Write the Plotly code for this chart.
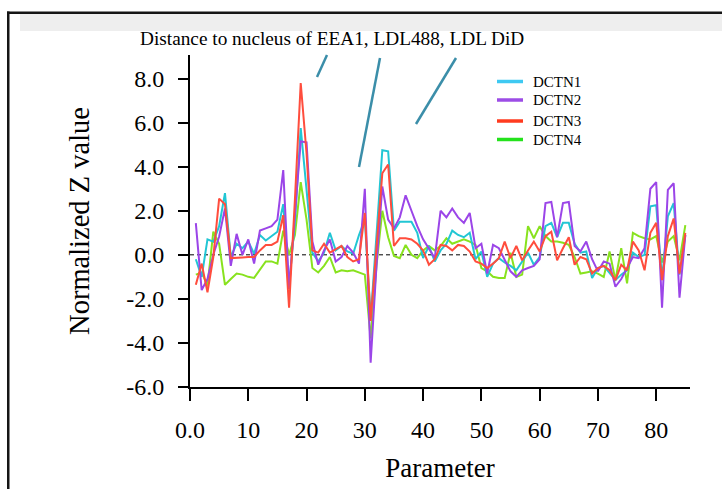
import plotly.graph_objects as go

# ---------------- data ----------------
params = list(range(1, 86))

dctn1 = [-0.2, -1.0, 0.7, 0.6, 1.3, 2.8, -0.1, 0.5, 0.3, 0.6,
         0.05, 0.9, 0.65, 0.85, 1.05, 2.3, -1.4, 1.5, 5.75, 2.95,
         0.1, -0.3, 0.1, 1.0, 0.2, 0.4, 0.15, 0.05, 0.9, 1.6,
         -2.9, 0.9, 4.75, 4.7, 1.1, 1.5, 1.5, 1.5, 1.0, -0.15,
         0.4, -0.3, 0.2, 0.5, 1.1, 0.9, 0.8, 1.0, -0.2, 0.15,
         -1.0, -0.4, -0.15, -0.35, -0.5, -0.7, -0.3, 0.1, -0.45, -0.1,
         1.3, 1.45, 0.8, 1.45, 1.45, 0.5, 0.1, 0.15, -1.05, -0.6,
         -0.5, -0.8, -1.15, -0.9, -0.7, 0.1, -0.1, 0.0, 2.2, 2.25,
         -1.1, 1.75, 2.35, -0.9, 0.9]

dctn2 = [1.44, -1.6, -1.1, 0.0, 0.83, 2.1, -0.5, 0.95, 0.0, 0.7,
         -0.4, 1.1, 1.2, 1.3, 1.6, 3.85, -1.55, 1.8, 5.15, 5.1,
         0.6, -0.45, 0.2, 0.7, -0.3, -0.1, 0.4, 0.1, -0.4, 3.0,
         -4.9, -0.5, 3.1, 1.6, 1.2, 1.7, 2.7, 2.0, 1.3, 0.7,
         0.3, -0.15, 2.0, 1.7, 2.1, 1.7, 1.45, 1.9, 0.3, 0.5,
         -0.85, 0.45, 0.3, -0.2, -0.75, -1.0, -0.7, -0.6, -0.5, -0.2,
         2.35, 2.4, 0.8, 2.35, 2.4, 0.4, 0.15, 0.6, -0.2, -0.75,
         -0.3, -0.4, -1.45, -1.1, -0.6, -0.1, -0.15, 0.3, 3.0, 3.3,
         -2.4, 2.95, 3.25, -1.95, 0.9]

dctn3 = [-1.36, -0.4, -1.7, -0.1, 2.55, 2.3, -0.15, -0.15, -0.12, -0.1,
         -0.1, 0.2, 0.45, 0.45, 0.6, 1.8, -2.4, 2.5, 7.8, 4.6,
         0.2, 0.1, 0.5, 0.1, 0.25, 0.4, -0.1, -0.3, -0.2, 1.9,
         -3.0, 0.2, 3.7, 4.1, 0.4, 0.75, 0.75, 0.7, 0.5, 0.2,
         -0.45, -0.2, 0.45, 0.4, 0.2, 0.45, 0.4, 0.15, -0.3, -0.4,
         -0.6, -0.4, -0.15, 0.6, -0.15, 0.4, -0.25, 0.2, 0.6, 0.15,
         0.85, 1.05, -0.25, 0.3, 0.8, -0.45, -0.1, -0.2, -0.85, -0.6,
         -0.5, -0.7, -1.15, -0.45, -0.7, 0.6, 0.2, -0.7, 1.0, 1.45,
         -1.15, 0.85, 1.65, -0.85, 1.0]

dctn4 = [-0.9, -0.8, -1.4, 1.05, 0.5, -1.36, -1.1, -0.85, -0.9, -1.0,
         -1.05, -0.7, -0.3, -0.3, -0.4, 1.1, 0.0, 0.9, 3.3, 1.6,
         -0.6, -0.8, -0.5, -0.1, -0.8, -0.7, -0.75, -0.7, -0.8, -0.9,
         -3.8, -0.5, 2.0, 0.8, -0.05, -0.15, 0.45, 0.0, -0.15, 0.2,
         0.4, 0.2, 0.4, 0.75, 0.5, 0.6, 0.7, 0.6, 0.45, -0.6,
         -0.75, -1.0, -1.05, -1.05, 0.1, -1.0, -0.9, 1.3, 0.75, 1.3,
         0.85, 0.6, 0.6, 0.55, 0.45, -0.1, -0.85, -0.8, -0.75, -0.85,
         -1.0, 0.15, -1.15, 0.3, -1.3, 1.0, 0.85, 0.75, 0.7, 0.85,
         -0.35, 0.6, 0.85, -0.25, 1.35]

series_names = ["DCTN1", "DCTN2", "DCTN3", "DCTN4"]
series_values = [dctn1, dctn2, dctn3, dctn4]

x_tick_vals = [0, 10, 20, 30, 40, 50, 60, 70, 80]
x_tick_text = ["0.0", "10", "20", "30", "40", "50", "60", "70", "80"]
y_tick_vals = [-6, -4, -2, 0, 2, 4, 6, 8]
y_tick_text = ["-6.0", "-4.0", "-2.0", "0.0", "2.0", "4.0", "6.0", "8.0"]

title_text = "Distance to nucleus of EEA1, LDL488, LDL DiD"
x_title = "Parameter"
y_title = "Normalized Z value"

# ---------------- styles ----------------
line_colors = ["#22c6d4", "#9b45e8", "#ff4d3d", "#88e21e"]
legend_colors = ["#3ec9f2", "#9c4ce6", "#ff3b1f", "#24e21c"]
legend_rows_px = [81.5, 100, 121, 139.5]
draw_order = [3, 0, 1, 2]
FONT = "Liberation Serif, Times New Roman, serif"

W, H = 722, 489
ML, MR, MT, MB = 190, 32, 55, 102
PW, PH = W - ML - MR, H - MT - MB


def px_x(px):
    return (px - ML) / PW


def px_y(py):
    return (H - MB - py) / PH


fig = go.Figure()

for i in draw_order:
    fig.add_trace(go.Scatter(
        x=params, y=series_values[i], mode="lines", name=series_names[i],
        line=dict(color=line_colors[i], width=2), showlegend=False,
        hoverinfo="skip"))

shapes = []
annotations = []
# zero dashed line
shapes.append(dict(type="line", xref="paper", x0=0, x1=1, yref="y", y0=0, y1=0,
                   line=dict(color="black", width=1, dash="4px,3px"), layer="below"))
# pointer strokes under the heading
for (a, b, c, d) in [(317, 77, 327, 55), (359, 167, 380, 58), (416, 124, 456, 58)]:
    shapes.append(dict(type="line", xref="paper", yref="paper",
                       x0=px_x(a), y0=px_y(b), x1=px_x(c), y1=px_y(d),
                       line=dict(color="#3b8ea9", width=2.5)))
# picture frame: grey band and dark top/left borders
shapes.append(dict(type="rect", xref="paper", yref="paper",
                   x0=px_x(20), x1=px_x(722), y0=px_y(31), y1=px_y(14),
                   fillcolor="#eeeeee", line=dict(width=0), layer="below"))
shapes.append(dict(type="rect", xref="paper", yref="paper",
                   x0=px_x(7), x1=px_x(722), y0=px_y(14), y1=px_y(11.5),
                   fillcolor="#151515", line=dict(width=0)))
shapes.append(dict(type="rect", xref="paper", yref="paper",
                   x0=px_x(7), x1=px_x(9.5), y0=px_y(489), y1=px_y(11.5),
                   fillcolor="#151515", line=dict(width=0)))

# legend (drawn by hand for exact row spacing)
for name, col, ry in zip(series_names, legend_colors, legend_rows_px):
    shapes.append(dict(type="line", xref="paper", yref="paper",
                       x0=px_x(497), x1=px_x(523), y0=px_y(ry), y1=px_y(ry),
                       line=dict(color=col, width=3.5)))
    annotations.append(dict(text=name, xref="paper", yref="paper",
                            x=px_x(531), y=px_y(ry), xanchor="left", yanchor="middle",
                            showarrow=False,
                            font=dict(family=FONT, size=15, color="black")))

annotations.append(dict(text=title_text, xref="paper", yref="paper",
                        x=px_x(332), y=px_y(38), xanchor="center", yanchor="middle",
                        showarrow=False, font=dict(family=FONT, size=19.3, color="black")))

fig.update_layout(
    width=W, height=H,
    margin=dict(l=ML, r=MR, t=MT, b=MB, pad=0),
    paper_bgcolor="white", plot_bgcolor="white",
    font=dict(family=FONT, color="black"),
    shapes=shapes,
    annotations=annotations,
    showlegend=False,
    xaxis=dict(range=[0, 85.8], tickvals=x_tick_vals, ticktext=x_tick_text,
               showgrid=False, zeroline=False, showline=True, linecolor="black",
               linewidth=2, ticks="outside", ticklen=12, tickwidth=1.5,
               tickcolor="black", ticklabelstandoff=8,
               tickfont=dict(family=FONT, size=24, color="black"),
               title=dict(text=x_title, font=dict(family=FONT, size=27, color="black"),
                          standoff=16),
               automargin=False, fixedrange=True),
    yaxis=dict(range=[-6, 9.07], tickvals=y_tick_vals, ticktext=y_tick_text,
               showgrid=False, zeroline=False, showline=True, linecolor="black",
               linewidth=2, ticks="outside", ticklen=10, tickwidth=1.5,
               tickcolor="black", ticklabelstandoff=9,
               tickfont=dict(family=FONT, size=24, color="black"),
               title=dict(text=y_title, font=dict(family=FONT, size=28.5, color="black"),
                          standoff=28),
               automargin=False, fixedrange=True),
)

fig.write_html("out.html")
